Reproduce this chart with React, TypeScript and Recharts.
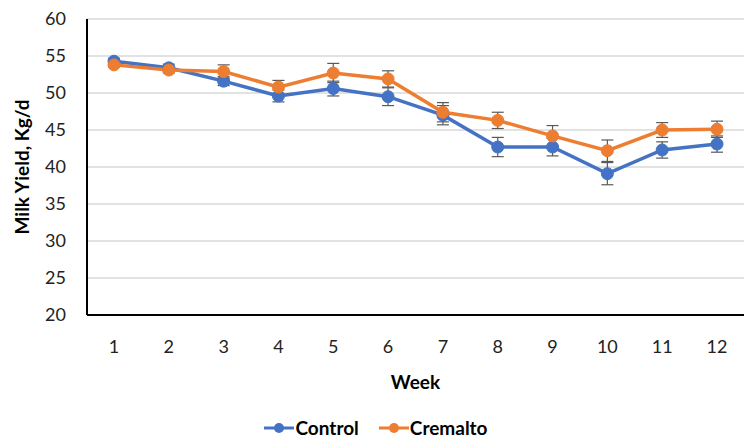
import React from 'react';
import { LineChart, Line, XAxis, YAxis, CartesianGrid, ErrorBar, Legend } from 'recharts';

const weeks = ['1', '2', '3', '4', '5', '6', '7', '8', '9', '10', '11', '12'];
const control = [54.3, 53.4, 51.6, 49.6, 50.6, 49.5, 47.0, 42.7, 42.7, 39.1, 42.3, 43.1];
const controlErr = [0.4, 0.5, 0.6, 0.8, 1.0, 1.2, 1.3, 1.3, 1.2, 1.5, 1.1, 1.1];
const cremalto = [53.8, 53.1, 52.9, 50.8, 52.7, 51.9, 47.4, 46.3, 44.2, 42.2, 45.0, 45.1];
const cremaltoErr = [0.3, 0.4, 0.9, 0.9, 1.3, 1.1, 1.3, 1.1, 1.4, 1.45, 1.0, 1.1];
const yTicks = [20, 25, 30, 35, 40, 45, 50, 55, 60];

const BLUE = '#4472C4';
const ORANGE = '#ED7D31';
const FONT = 'Lato, "Open Sans", sans-serif';

const data = weeks.map((w, i) => ({
  week: w,
  control: control[i],
  controlErr: controlErr[i],
  cremalto: cremalto[i],
  cremaltoErr: cremaltoErr[i],
}));

const legendItems = [
  { name: 'Control', color: BLUE },
  { name: 'Cremalto', color: ORANGE },
];

const renderLegend = () => (
  <div style={{ display: 'flex', justifyContent: 'center', gap: 20, fontFamily: FONT, fontWeight: 700, fontSize: 19, color: '#000', paddingLeft: 8, paddingTop: 4 }}>
    {legendItems.map((it) => (
      <div key={it.name} style={{ display: 'flex', alignItems: 'center' }}>
        <svg width={30} height={14} style={{ marginRight: 1 }}>
          <line x1={0} y1={7} x2={30} y2={7} stroke={it.color} strokeWidth={3} />
          <circle cx={15} cy={7} r={5} fill={it.color} />
        </svg>
        <span>{it.name}</span>
      </div>
    ))}
  </div>
);

export default function App() {
  return (
    <div style={{ position: 'absolute', left: 0, top: 0, width: 753, height: 442, background: '#fff' }}>
      <LineChart width={753} height={442} data={data} margin={{ top: 19, right: 9, left: 0, bottom: 0 }}>
        <CartesianGrid horizontal vertical={false} stroke="#d9d9d9" strokeWidth={1.5} />
        <XAxis
          dataKey="week"
          padding={{ left: 27, right: 27 }}
          axisLine={{ stroke: '#000', strokeWidth: 2 }}
          tickLine={false}
          tickMargin={19}
          height={97}
          tick={{ fill: '#222', fontSize: 18, fontFamily: FONT }}
          label={{ value: 'Week', position: 'insideBottom', offset: 23, fill: '#000', fontSize: 19, fontWeight: 700, fontFamily: FONT }}
        />
        <YAxis
          domain={[20, 60]}
          ticks={yTicks}
          interval={0}
          width={87}
          axisLine={{ stroke: '#000', strokeWidth: 2 }}
          tickLine={false}
          tickMargin={15}
          tick={{ fill: '#222', fontSize: 18, fontFamily: FONT }}
          label={{ value: 'Milk Yield, Kg/d', angle: -90, position: 'insideLeft', offset: 22, style: { textAnchor: 'middle' }, fill: '#000', fontSize: 19, fontWeight: 700, fontFamily: FONT }}
        />
        <Legend verticalAlign="bottom" height={30} content={renderLegend} />
        <Line
          type="linear"
          dataKey="control"
          name="Control"
          stroke={BLUE}
          strokeWidth={3.5}
          dot={{ r: 6, fill: BLUE, stroke: BLUE, strokeWidth: 1 }}
          activeDot={false}
          isAnimationActive={false}
        >
          <ErrorBar dataKey="controlErr" width={6} stroke="#595959" strokeWidth={1.2} />
        </Line>
        <Line
          type="linear"
          dataKey="cremalto"
          name="Cremalto"
          stroke={ORANGE}
          strokeWidth={3.5}
          dot={{ r: 6, fill: ORANGE, stroke: ORANGE, strokeWidth: 1 }}
          activeDot={false}
          isAnimationActive={false}
        >
          <ErrorBar dataKey="cremaltoErr" width={6} stroke="#595959" strokeWidth={1.2} />
        </Line>
      </LineChart>
    </div>
  );
}
